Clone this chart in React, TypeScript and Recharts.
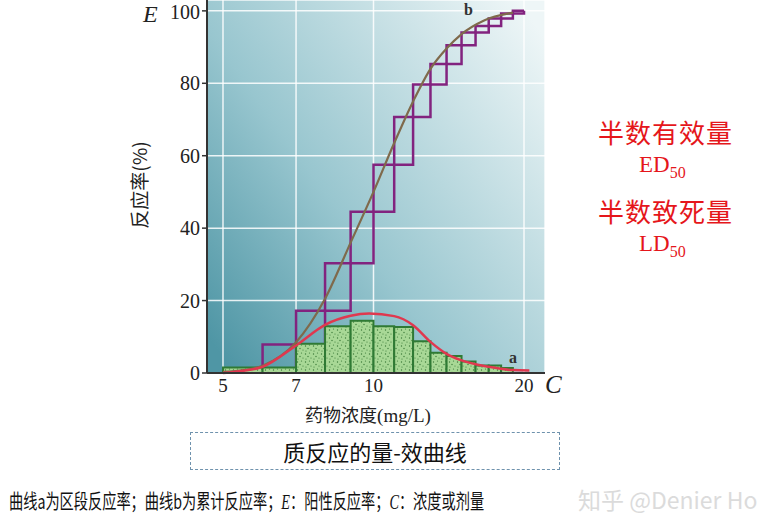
import React from 'react';
import { ComposedChart, Line, XAxis, YAxis, CartesianGrid, ReferenceArea } from 'recharts';

// concentration ticks (log axis) and response ticks
const xTicks = [5, 7, 10, 20];
const yTicks = [0, 20, 40, 60, 80, 100];

// curve a: histogram of response per concentration band
const binEdges = [5, 6, 7, 8, 9, 10, 11, 12, 13, 14, 15, 16, 17, 18, 19];
const binRates = [1.5, 1.5, 8.1, 12.9, 14.4, 12.9, 12.7, 8.75, 5.6, 4.7, 3.2, 2.1, 2.1, 1.4];

// curve b: cumulative staircase (each level spans two bands)
const stepStarts = [6, 7, 8, 9, 10, 11, 12, 13, 14, 15, 16, 17, 18, 19];
const stepLevels = [7.9, 17.2, 30.3, 44.5, 57.5, 70.7, 79.7, 85.3, 90.5, 94, 95.8, 97.9, 99.3, 100];

// smooth curves
const sigmoidC = [5, 5.5, 6, 7, 8, 9, 10, 11, 12, 13, 14, 15, 16.6, 19];
const sigmoidE = [0.3, 0.8, 2, 8.5, 20.5, 36, 50, 63.5, 75, 84, 89.6, 93.6, 97.3, 99.5];
const bellC = [5, 5.5, 6, 7, 8, 9, 9.8, 11, 12, 13, 14, 15, 17, 19, 20.5];
const bellE = [0, 0.6, 1.7, 7.6, 13.3, 15.8, 16.4, 15.7, 13.2, 8.6, 5.3, 3.5, 1.7, 0.8, 0.7];

const stepA = [
  { c: stepStarts[0], v: 0 },
  ...stepStarts.map((c, i) => ({ c, v: stepLevels[i] })),
  { c: 20, v: stepLevels[stepLevels.length - 1] },
];
const stepB = [
  { c: stepStarts[0] + 1, v: 0 },
  ...stepStarts.map((c, i) => ({ c: c + 1, v: stepLevels[i] })),
];
const sigmoid = sigmoidC.map((c, i) => ({ c, v: sigmoidE[i] }));
const bell = bellC.map((c, i) => ({ c, v: bellE[i] }));

const serif = '"Liberation Serif", "DejaVu Serif", serif';
const cjk = '"Noto Sans CJK SC", "Noto Sans", sans-serif';

const abs = (left: number, top: number, extra: React.CSSProperties = {}): React.CSSProperties => ({
  position: 'absolute', left, top, whiteSpace: 'nowrap', lineHeight: 1, ...extra,
});

export default function App() {
  return (
    <div style={{ position: 'absolute', left: 0, top: 0, width: 780, height: 529, background: '#fff', overflow: 'hidden' }}>
      <ComposedChart width={780} height={529} margin={{ top: 0, right: 235, bottom: 126, left: 147 }}>
        <defs>
          <linearGradient id="bg" x1="0" y1="0.9" x2="1" y2="0.1">
            <stop offset="0" stopColor="#4f96a5" />
            <stop offset="0.4" stopColor="#98c6cf" />
            <stop offset="1" stopColor="#eef6f7" />
          </linearGradient>
          <pattern id="stipple" width="8" height="8" patternUnits="userSpaceOnUse">
            <rect width="8" height="8" fill="#a8d896" />
            <circle cx="1.5" cy="2" r="0.7" fill="#3b7a38" />
            <circle cx="5.5" cy="1" r="0.6" fill="#3b7a38" />
            <circle cx="4" cy="4.5" r="0.7" fill="#3b7a38" />
            <circle cx="7" cy="6" r="0.6" fill="#3b7a38" />
            <circle cx="2" cy="7" r="0.6" fill="#3b7a38" />
          </pattern>
        </defs>
        <CartesianGrid fill="url(#bg)" stroke="#ffffff" strokeOpacity={0.85} strokeWidth={1.5} />
        <XAxis
          dataKey="c"
          type="number"
          scale="log"
          domain={[4.645, 22.03]}
          allowDataOverflow
          ticks={xTicks}
          tickLine={false}
          tickSize={4}
          axisLine={{ stroke: '#333', strokeWidth: 2 }}
          tick={{ fontSize: 19, fill: '#222', fontFamily: serif }}
        />
        <YAxis
          type="number"
          domain={[0, 103]}
          ticks={yTicks}
          width={60}
          tickSize={5}
          axisLine={{ stroke: '#333', strokeWidth: 2 }}
          tickLine={{ stroke: '#333', strokeWidth: 1.5 }}
          tick={{ fontSize: 20, fill: '#222', fontFamily: serif }}
        />
        <Line data={stepA} dataKey="v" type="stepAfter" stroke="#82237f" strokeWidth={2.5} dot={false} isAnimationActive={false} zIndex={90} />
        <Line data={stepB} dataKey="v" type="stepAfter" stroke="#82237f" strokeWidth={2.5} dot={false} isAnimationActive={false} zIndex={90} />
        {binRates.map((h, i) => (
          <ReferenceArea
            key={`bin-${i}`}
            x1={binEdges[i]}
            x2={binEdges[i + 1]}
            y1={0}
            y2={h}
            fill="url(#stipple)"
            fillOpacity={1}
            stroke="#2f7a34"
            strokeWidth={2}
            ifOverflow="visible"
            zIndex={100}
          />
        ))}
        <Line data={sigmoid} dataKey="v" type="monotone" stroke="#7f6a4c" strokeWidth={2.2} dot={false} isAnimationActive={false} zIndex={400} />
        <Line data={bell} dataKey="v" type="monotone" stroke="#e0384f" strokeWidth={2.5} dot={false} isAnimationActive={false} zIndex={410} />
      </ComposedChart>

      <div style={abs(143, 2, { fontFamily: serif, fontStyle: 'italic', fontSize: 24, color: '#222' })}>E</div>
      <div style={abs(545, 372, { fontFamily: serif, fontStyle: 'italic', fontSize: 25, color: '#222' })}>C</div>
      <div style={abs(464, 2, { fontFamily: serif, fontWeight: 'bold', fontSize: 16, color: '#333' })}>b</div>
      <div style={abs(509, 350, { fontFamily: serif, fontWeight: 'bold', fontSize: 16, color: '#333' })}>a</div>

      <div style={abs(138, 185, { fontFamily: cjk, fontSize: 19, color: '#222', transform: 'translate(-50%, -50%) rotate(-90deg)', transformOrigin: 'center' })}>
        反应率(%)
      </div>
      <div style={abs(368, 405, { fontFamily: cjk, fontSize: 18, color: '#222', transform: 'translateX(-50%)' })}>
        药物浓度<span style={{ fontFamily: serif, fontSize: 19 }}>(mg/L)</span>
      </div>

      <div style={{ position: 'absolute', left: 190, top: 432, width: 370, height: 38, boxSizing: 'border-box', border: '1px dashed #6f92ad', display: 'flex', alignItems: 'center', justifyContent: 'center', fontFamily: cjk, fontSize: 22, color: '#111' }}>
        质反应的量-效曲线
      </div>

      <div style={abs(598, 119, { fontFamily: cjk, fontSize: 26, color: '#e5161b', letterSpacing: 1 })}>半数有效量</div>
      <div style={abs(639, 153, { fontFamily: serif, fontSize: 23, color: '#e5161b' })}>
        ED<sub style={{ fontSize: 16 }}>50</sub>
      </div>
      <div style={abs(598, 198, { fontFamily: cjk, fontSize: 26, color: '#e5161b', letterSpacing: 1 })}>半数致死量</div>
      <div style={abs(639, 232, { fontFamily: serif, fontSize: 23, color: '#e5161b' })}>
        LD<sub style={{ fontSize: 16 }}>50</sub>
      </div>

      <div style={abs(9, 491, { fontFamily: cjk, fontSize: 20, color: '#111', transform: 'scaleX(0.71)', transformOrigin: 'left center' })}>
        曲线a为区段反应率；曲线b为累计反应率；<span style={{ fontFamily: serif, fontStyle: 'italic' }}>E</span>：阳性反应率；<span style={{ fontFamily: serif, fontStyle: 'italic' }}>C</span>：浓度或剂量
      </div>
      <div style={abs(578, 488, { fontFamily: cjk, fontSize: 23, color: '#d0d0d0', opacity: 0.75 })}>知乎 @Denier Ho</div>
    </div>
  );
}
